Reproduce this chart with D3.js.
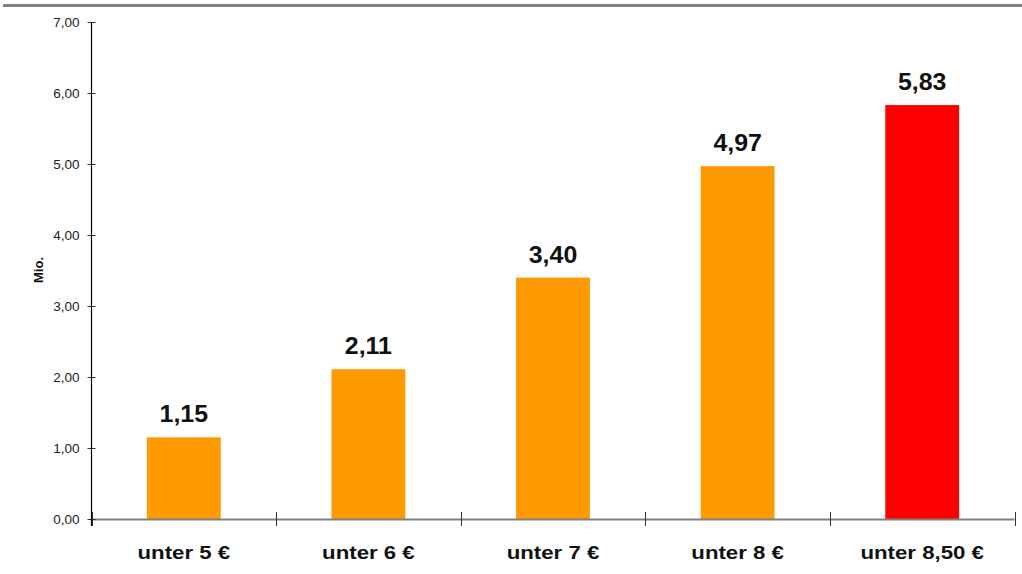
<!DOCTYPE html>
<html><head><meta charset="utf-8">
<script src="https://cdn.jsdelivr.net/npm/d3@7"></script>
<style>body{margin:0;background:#fff}svg{display:block}</style>
</head><body>
<script>
const categories = ["unter 5 €", "unter 6 €", "unter 7 €", "unter 8 €", "unter 8,50 €"];
const values = [1.15, 2.11, 3.40, 4.97, 5.83];
const barColors = ["#FF9900", "#FF9900", "#FF9900", "#FF9900", "#FF0000"];
const yTicks = [0, 1, 2, 3, 4, 5, 6, 7];
const yTitle = "Mio.";

(function () {
const W = 1022, H = 574;
const FONT = "'Liberation Sans', Arial, sans-serif";
const svg = d3.select("body").append("svg").attr("width", W).attr("height", H);
const fmt = v => v.toFixed(2).replace(".", ",");

const pLeft = 91.5, pRight = 1014.5, pTop = 22, pBottom = 519;
const x = d3.scaleBand().domain(categories).range([pLeft, pRight]).paddingInner(0).paddingOuter(0);
const y = d3.scaleLinear().domain([0, 7]).range([pBottom, pTop]);

// top decorative rule
svg.append("line").attr("x1", 3).attr("x2", W).attr("y1", 5.5).attr("y2", 5.5)
  .attr("stroke", "#808080").attr("stroke-width", 3);

// bars
const bw = x.bandwidth() * 0.4;
svg.selectAll("rect.bar").data(values).join("rect")
  .attr("x", (d, i) => x(categories[i]) + (x.bandwidth() - bw) / 2)
  .attr("y", d => y(d))
  .attr("width", bw)
  .attr("height", d => y(0) - y(d))
  .attr("fill", (d, i) => barColors[i]);

// value labels
svg.selectAll("text.val").data(values).join("text")
  .attr("transform", (d, i) => `translate(${x(categories[i]) + x.bandwidth() / 2},${y(d) - 15}) scale(1.06,1)`)
  .attr("text-anchor", "middle")
  .attr("font-family", FONT)
  .attr("font-weight", "bold").attr("font-size", 23.5).attr("fill", "#111")
  .text(d => fmt(d));

// x axis
const xAxisG = svg.append("g");
xAxisG.append("line").attr("x1", pLeft).attr("x2", pRight).attr("y1", pBottom + 0.5).attr("y2", pBottom + 0.5)
  .attr("stroke", "#808080").attr("stroke-width", 2);
const xBounds = categories.map(c => x(c)).concat([pRight]);
xAxisG.selectAll("line.xt").data(xBounds).join("line")
  .attr("x1", d => Math.round(d) + 0.5).attr("x2", d => Math.round(d) + 0.5)
  .attr("y1", pBottom - 7).attr("y2", pBottom + 7)
  .attr("stroke", "#333").attr("stroke-width", 1);
xAxisG.selectAll("text.cat").data(categories).join("text")
  .attr("transform", d => `translate(${x(d) + x.bandwidth() / 2},559) scale(1.17,1)`)
  .attr("text-anchor", "middle")
  .attr("font-family", FONT)
  .attr("font-weight", "bold").attr("font-size", 19).attr("fill", "#111")
  .text(d => d);

// y axis
const yAxis = d3.axisLeft(y).tickValues(yTicks).tickFormat(fmt).tickSizeInner(4).tickSizeOuter(0).tickPadding(6);
const yg = svg.append("g").attr("transform", `translate(${pLeft},0)`).call(yAxis);
yg.select(".domain").remove();
yg.append("line").attr("x1", 0).attr("x2", 0).attr("y1", pTop).attr("y2", pBottom + 7)
  .attr("stroke", "#000").attr("stroke-width", 1.2);
yg.selectAll(".tick line").attr("x1", -4).attr("x2", 4).attr("stroke", "#333");
yg.selectAll(".tick text").attr("font-family", FONT)
  .attr("font-size", 13.5).attr("fill", "#222").attr("x", -12).attr("dy", "0.36em");

svg.append("text")
  .attr("transform", `translate(43,270) rotate(-90)`)
  .attr("text-anchor", "middle")
  .attr("font-family", FONT)
  .attr("font-weight", "bold").attr("font-size", 13).attr("fill", "#111")
  .text(yTitle);
})();
</script>
</body></html>
